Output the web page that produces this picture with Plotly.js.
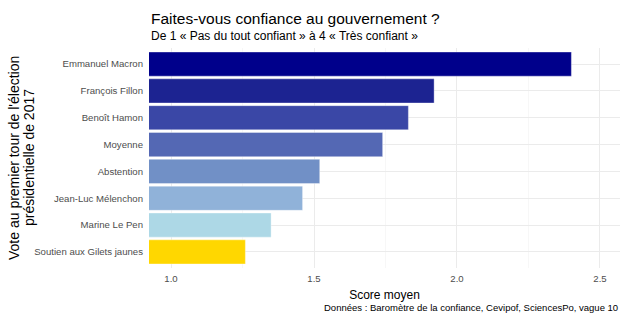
<!DOCTYPE html>
<html>
<head>
<meta charset="utf-8">
<script src="https://cdn.plot.ly/plotly-3.0.1.min.js"></script>
<style>html,body{margin:0;padding:0;background:#fff;}#chart{width:622px;height:315px;}</style>
</head>
<body>
<div id="chart"></div>
<script>
const categories = ["Emmanuel Macron","François Fillon","Benoît Hamon","Moyenne","Abstention","Jean-Luc Mélenchon","Marine Le Pen","Soutien aux Gilets jaunes"];
const scores = [2.40, 1.92, 1.83, 1.74, 1.52, 1.46, 1.35, 1.26];
const barColors = ["#00008B","#1C2391","#3A47A6","#5468B4","#7190C6","#90B2D9","#ADD8E6","#FFD700"];
const xTickVals = [1.0, 1.5, 2.0, 2.5];
const xTickText = ["1.0","1.5","2.0","2.5"];
const xMinorVals = [1.25, 1.75, 2.25];
const yTitleLines = ["Vote au premier tour de l'élection", "présidentielle de 2017"];

const font = "Liberation Sans, Arial, sans-serif";
const trace = {
  type: "bar",
  orientation: "h",
  y: categories,
  x: scores,
  width: 0.9,
  marker: {color: barColors, line: {color: "rgba(255,255,255,0.6)", width: 0.6}},
  hoverinfo: "none"
};
const layout = {
  width: 622, height: 315,
  margin: {l: 149, r: 2, t: 48, b: 47},
  paper_bgcolor: "#fff", plot_bgcolor: "#fff",
  font: {family: font, color: "#4D4D4D"},
  showlegend: false,
  xaxis: {
    range: [0.923, 2.57],
    tickvals: xTickVals, ticktext: xTickText,
    tickfont: {size: 9.6, color: "#4D4D4D"},
    showgrid: true, gridcolor: "#EBEBEB", gridwidth: 1,
    minor: {tickvals: xMinorVals, showgrid: true, gridcolor: "#F2F2F2", gridwidth: 0.6},
    zeroline: false, showline: false, ticks: "", ticklabelstandoff: 3,
    title: {text: "Score moyen", font: {size: 12, color: "#000"}, standoff: 8}
  },
  yaxis: {
    type: "category",
    categoryorder: "array", categoryarray: categories,
    range: [7.6, -0.6],
    tickfont: {size: 9.6, color: "#4D4D4D"},
    showgrid: true, gridcolor: "#EBEBEB", gridwidth: 1,
    zeroline: false, showline: false, ticks: "", ticklabelstandoff: 5
  },
  annotations: [
    {text: "Faites-vous confiance au gouvernement ?", xref: "paper", yref: "paper", x: 0, y: 1, xanchor: "left", yanchor: "middle", yshift: 30, showarrow: false, font: {size: 15.5, color: "#000", family: font}},
    {text: "De 1 « Pas du tout confiant » à 4 « Très confiant »", xref: "paper", yref: "paper", x: 0, y: 1, xanchor: "left", yanchor: "middle", yshift: 12, showarrow: false, font: {size: 12, color: "#000", family: font}},
    {text: "Données : Baromètre de la confiance, Cevipof, SciencesPo, vague 10", xref: "paper", yref: "paper", x: 1, y: 0, xanchor: "right", yanchor: "middle", yshift: -39, showarrow: false, font: {size: 9.5, color: "#000", family: font}},
    {text: yTitleLines[0], xref: "paper", yref: "paper", x: 0, y: 0.5, xanchor: "center", yanchor: "middle", xshift: -135, textangle: -90, showarrow: false, font: {size: 14, color: "#000", family: font}},
    {text: yTitleLines[1], xref: "paper", yref: "paper", x: 0, y: 0.5, xanchor: "center", yanchor: "middle", xshift: -120, textangle: -90, showarrow: false, font: {size: 14, color: "#000", family: font}}
  ]
};
Plotly.newPlot("chart", [trace], layout, {displayModeBar: false, staticPlot: true});
</script>
</body>
</html>
